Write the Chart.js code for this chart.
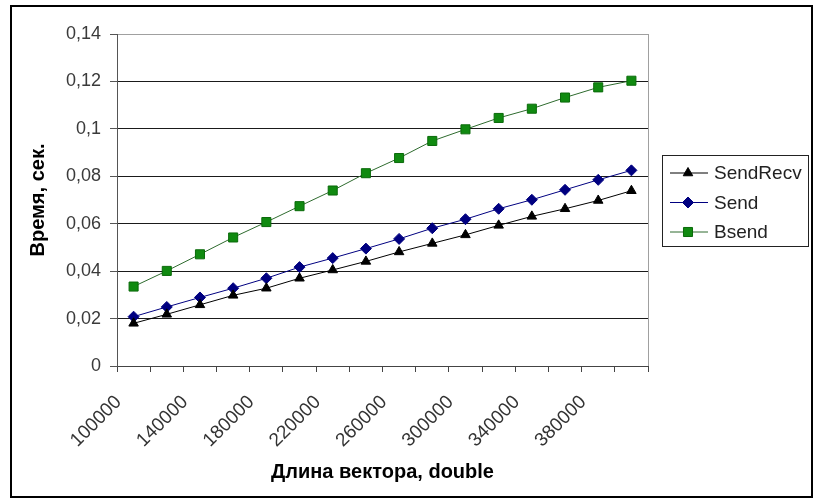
<!DOCTYPE html>
<html>
<head>
<meta charset="utf-8">
<script src="https://cdn.jsdelivr.net/npm/chart.js@4/dist/chart.umd.min.js"></script>
<style>
  html, body { margin: 0; padding: 0; background: #fff; }
  #wrap { width: 820px; height: 501px; position: relative; }
</style>
</head>
<body>
<div id="wrap"><canvas id="c" width="820" height="501"></canvas></div>
<script>
// Vector length (number of doubles) for each measurement
const lengths = ['100000','120000','140000','160000','180000','200000','220000','240000',
                 '260000','280000','300000','320000','340000','360000','380000','400000'];

// Transfer time, seconds
const sendRecv = [0.0180,0.0218,0.0258,0.0298,0.0328,0.0370,0.0405,0.0441,
                  0.0481,0.0517,0.0553,0.0593,0.0631,0.0663,0.0698,0.0739];
const send     = [0.0208,0.0249,0.0289,0.0328,0.0370,0.0417,0.0455,0.0495,
                  0.0536,0.0581,0.0619,0.0663,0.0701,0.0743,0.0785,0.0825];
const bsend    = [0.0335,0.0401,0.0471,0.0542,0.0607,0.0674,0.0740,0.0813,
                  0.0877,0.0949,0.0998,0.1046,0.1085,0.1132,0.1175,0.1203];

// Only every second length is labelled on the axis
const xTickLabels = lengths.map((l, i) => (i % 2 === 0 ? l : ''));

const FONT = "Arial, 'Liberation Sans', sans-serif";

// Outer frame, right edge of the plot area and the boxed legend
const framePlugin = {
  id: 'frame',
  afterDraw(chart) {
    const ctx = chart.ctx;
    const a = chart.chartArea;
    ctx.save();
    // right border of plot area
    ctx.strokeStyle = '#a0a0a0';
    ctx.lineWidth = 1;
    ctx.beginPath();
    ctx.moveTo(a.right + 0.5, a.top);
    ctx.lineTo(a.right + 0.5, a.bottom);
    ctx.stroke();

    // outer frame
    ctx.strokeStyle = '#000';
    ctx.lineWidth = 2;
    ctx.strokeRect(11, 6, 801, 491);

    // legend
    const lx = 662, ly = 155, lw = 146, lh = 91;
    ctx.strokeStyle = '#222';
    ctx.lineWidth = 1;
    ctx.strokeRect(lx + 0.5, ly + 0.5, lw, lh);
    ctx.font = '19px ' + FONT;
    ctx.textBaseline = 'middle';
    ctx.textAlign = 'left';
    chart.data.datasets.forEach((ds, i) => {
      const y = ly + 18 + i * 29.5;
      ctx.strokeStyle = ds.borderColor;
      ctx.lineWidth = 1;
      ctx.beginPath();
      ctx.moveTo(lx + 8, y);
      ctx.lineTo(lx + 46, y);
      ctx.stroke();
      ctx.fillStyle = ds.pointBackgroundColor;
      ctx.strokeStyle = ds.pointBorderColor;
      Chart.helpers.drawPoint(ctx, {
        pointStyle: ds.pointStyle, radius: ds.pointRadius,
        rotation: 0, borderWidth: 1
      }, lx + 26, y);
      ctx.fillStyle = '#222';
      ctx.fillText(ds.label, lx + 52, y + 1);
    });
    ctx.restore();
  }
};

new Chart(document.getElementById('c'), {
  type: 'line',
  data: {
    labels: lengths,
    datasets: [
      {
        label: 'SendRecv', data: sendRecv,
        borderColor: '#000000', borderWidth: 1,
        pointStyle: 'triangle', pointRadius: 5.5,
        pointBackgroundColor: '#000000', pointBorderColor: '#000000', pointBorderWidth: 1
      },
      {
        label: 'Send', data: send,
        borderColor: '#000080', borderWidth: 1,
        pointStyle: 'rectRot', pointRadius: 5.5,
        pointBackgroundColor: '#000080', pointBorderColor: '#000080', pointBorderWidth: 1
      },
      {
        label: 'Bsend', data: bsend,
        borderColor: '#2e6b2e', borderWidth: 1,
        pointStyle: 'rect', pointRadius: 6.4,
        pointBackgroundColor: '#108a10', pointBorderColor: '#0a6a0a', pointBorderWidth: 1
      }
    ]
  },
  options: {
    responsive: false,
    animation: false,
    layout: { padding: { left: 0, right: 172, top: 34, bottom: 0 } },
    plugins: {
      legend: { display: false },
      tooltip: { enabled: false }
    },
    elements: { line: { tension: 0 } },
    scales: {
      x: {
        type: 'category',
        offset: true,
        grid: {
          offset: true,
          drawOnChartArea: false,
          drawTicks: true,
          tickLength: 6,
          tickColor: '#444'
        },
        border: { display: true, color: '#444', width: 1 },
        ticks: {
          autoSkip: false,
          minRotation: 45,
          maxRotation: 45,
          padding: 19,
          labelOffset: -15,
          color: '#333',
          font: { family: FONT, size: 19 },
          callback: (v, i) => xTickLabels[i]
        },
        title: {
          display: true,
          text: 'Длина вектора, double',
          color: '#000',
          font: { family: FONT, size: 20, weight: 'bold' },
          padding: { top: 0, bottom: 17 }
        },
        afterFit: (s) => { s.height = 135; }
      },
      y: {
        min: 0,
        max: 0.14,
        ticks: {
          stepSize: 0.02,
          padding: 9,
          color: '#3a3a3a',
          font: { family: FONT, size: 18 },
          callback: (v) => (v === 0 ? '0' : (+v.toFixed(2)).toString().replace('.', ','))
        },
        grid: {
          color: (c) => (c.tick && c.tick.value >= 0.139 ? '#a0a0a0' : '#1a1a1a'),
          lineWidth: 1,
          tickLength: 7,
          tickColor: '#555'
        },
        border: { display: true, color: '#555', width: 1 },
        title: {
          display: true,
          text: 'Время, сек.',
          color: '#000',
          font: { family: FONT, size: 20, weight: 'bold' },
          padding: { top: 26, bottom: 0 }
        },
        afterFit: (s) => { s.width = 117; }
      }
    }
  },
  plugins: [framePlugin]
});
</script>
</body>
</html>
